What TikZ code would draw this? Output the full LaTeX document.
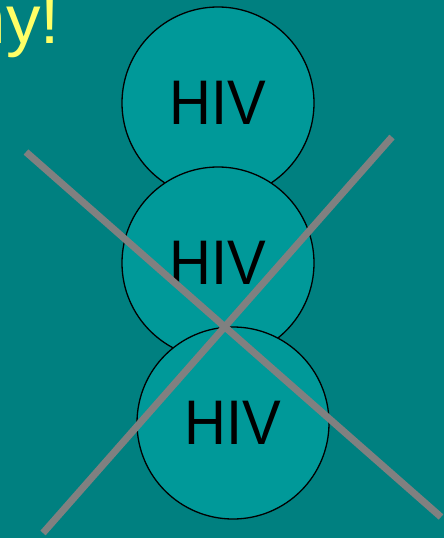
\documentclass[tikz,border=0pt]{standalone}
\usepackage{fontspec}
\usepackage{graphicx}
\setmainfont{Liberation Sans}
\definecolor{bgteal}{RGB}{0,128,128}
\definecolor{circteal}{RGB}{0,153,153}
\definecolor{crossgray}{RGB}{128,128,128}
\definecolor{titleyellow}{RGB}{255,255,102}
\newcommand{\hivtext}{\scalebox{0.92}[1]{HIV}}
\begin{document}
\begin{tikzpicture}[x=1pt,y=-1pt,
  hivc/.style={circle,draw=black,line width=1.3pt,fill=circteal,minimum size=192pt,inner sep=0pt,
    font=\fontsize{63}{63}\selectfont,text=black},
  crossline/.style={draw=crossgray,line width=7pt,line cap=butt}]
\useasboundingbox (0,0) rectangle (444,538);
\fill[bgteal] (0,0) rectangle (444,538);
\node[anchor=base east,text=titleyellow,inner sep=0pt,font=\fontsize{69}{69}\selectfont] (title) at (60,43) {ny!};
\node[hivc] (c1) at (218,103) {\hivtext};
\node[hivc] (c2) at (218,263) {\hivtext};
\node[hivc] (c3) at (233,423) {\hivtext};
\coordinate (l1a) at (26,152);
\coordinate (l1b) at (441,517);
\coordinate (l2a) at (43,533);
\coordinate (l2b) at (392,137);
\draw[crossline] (l1a) -- (l1b);
\draw[crossline] (l2a) -- (l2b);
\end{tikzpicture}
\end{document}
